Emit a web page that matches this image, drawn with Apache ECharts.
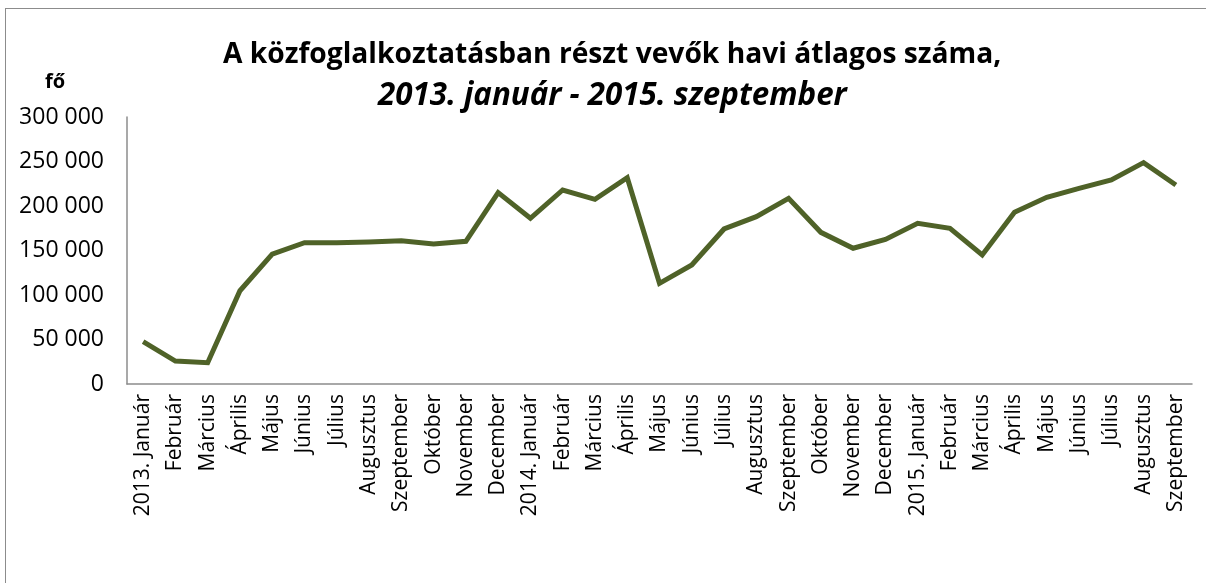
<!DOCTYPE html>
<html>
<head>
<meta charset="utf-8">
<title>Közfoglalkoztatás</title>
<script src="https://cdn.jsdelivr.net/npm/echarts@6/dist/echarts.min.js"></script>
<style>
  html, body { margin: 0; padding: 0; background: #fff; overflow: hidden; }
  #frame {
    position: absolute; left: 5px; top: 8px; width: 1210px; height: 640px;
    border-left: 1.5px solid #8c8c8c; border-top: 1.5px solid #8c8c8c; box-sizing: border-box;
  }
  #chart { position: absolute; left: 0; top: 0; width: 1206px; height: 583px; }
</style>
</head>
<body>
<div id="frame"></div>
<div id="chart"></div>
<script>
  // hónapok
  var months = [
    '2013. Január', 'Február', 'Március', 'Április', 'Május', 'Június', 'Július',
    'Augusztus', 'Szeptember', 'Október', 'November', 'December',
    '2014. Január', 'Február', 'Március', 'Április', 'Május', 'Június', 'Július',
    'Augusztus', 'Szeptember', 'Október', 'November', 'December',
    '2015. Január', 'Február', 'Március', 'Április', 'Május', 'Június', 'Július',
    'Augusztus', 'Szeptember'
  ];
  // résztvevők havi átlagos száma (fő)
  var participants = [
    47500, 25800, 23900, 104800, 146000, 158800, 158800, 159500, 161000, 157300, 160300, 215000,
    186200, 218000, 207500, 231800, 113100, 133700, 174200, 188000, 208600, 170400, 152500, 162500,
    180500, 175000, 145000, 192900, 209800, 219900, 229200, 248700, 223600
  ];
  var yMin = 0, yMax = 300000, yStep = 50000;

  var FONT = '"Open Sans", "Noto Sans", sans-serif';

  function fmt(v) { // 300000 -> "300 000"
    return String(v).replace(/\B(?=(\d{3})+(?!\d))/g, ' ');
  }

  var myChart = echarts.init(document.getElementById('chart'), null, { renderer: 'canvas' });
  var option = {
    animation: false,
    backgroundColor: 'transparent',
    title: [{
      text: 'A közfoglalkoztatásban részt vevők havi átlagos száma,',
      left: 218, top: 36,
      textStyle: { fontFamily: FONT, fontSize: 28.2, fontWeight: 'bold', color: '#000' }
    }, {
      text: '2013. január - 2015. szeptember',
      left: 373, top: 76,
      textStyle: { fontFamily: FONT, fontSize: 31.3, fontWeight: 'bold', fontStyle: 'italic', color: '#000' }
    }, {
      text: 'fő',
      left: 40, top: 67,
      textStyle: { fontFamily: FONT, fontSize: 20, fontWeight: 'bold', color: '#000' }
    }],
    grid: { left: 127, top: 117, right: 14, bottom: 199, containLabel: false },
    xAxis: {
      type: 'category',
      data: months,
      boundaryGap: true,
      axisLine: { lineStyle: { color: '#8c8c8c', width: 1.5 } },
      axisTick: { show: false },
      axisLabel: {
        interval: 0, rotate: 90, margin: 10,
        fontFamily: FONT, fontSize: 21, color: '#000'
      }
    },
    yAxis: {
      type: 'value',
      min: yMin, max: yMax, interval: yStep,
      axisLine: { show: true, lineStyle: { color: '#8c8c8c', width: 1.5 } },
      axisTick: { show: false },
      splitLine: { show: false },
      axisLabel: {
        margin: 23, fontFamily: FONT, fontSize: 23, color: '#000',
        formatter: fmt
      }
    },
    series: [{
      type: 'line',
      data: participants,
      symbol: 'none',
      lineStyle: { color: '#4f6228', width: 5, join: 'miter' }
    }]
  };
  myChart.setOption(option);
</script>
</body>
</html>
